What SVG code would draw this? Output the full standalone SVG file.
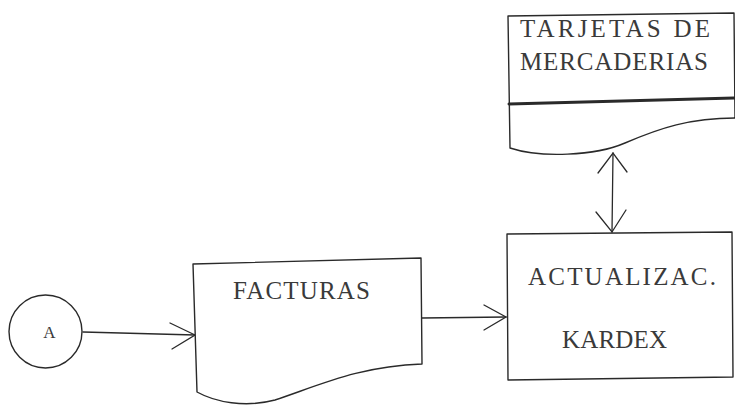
<svg xmlns="http://www.w3.org/2000/svg" width="735" height="405" viewBox="0 0 735 405">
  <defs>
    <style>
      .shape { fill: #ffffff; stroke: #2a2a2a; stroke-width: 1.4; stroke-linejoin: round; }
      .line { fill: none; stroke: #2a2a2a; stroke-width: 1.3; stroke-linecap: round; }
      .label { font-family: "Liberation Serif", "Times New Roman", serif; font-size: 25px; fill: #3a3a3a; }
    </style>
  </defs>
  <rect width="735" height="405" fill="#ffffff"/>

  <!-- connector A to FACTURAS, FACTURAS to ACTUALIZAC., KARDEX to TARJETAS -->
  <g id="connectors">
    <path class="line" d="M83 332 L195 335"/>
    <path class="line" d="M170 323 L195 335 L172 349"/>
    <path class="line" d="M422 318 L506 317"/>
    <path class="line" d="M484 305 L506 317 L484 330"/>
    <path class="line" d="M613 153 L612 232"/>
    <path class="line" d="M598 173 L613 153 L627 172"/>
    <path class="line" d="M596 212 L612 232 L626 210"/>
  </g>

  <g id="node-a">
    <circle class="shape" cx="45.5" cy="331.5" r="36.5"/>
    <text class="label" x="49.5" y="338" text-anchor="middle" style="font-size:17px">A</text>
  </g>

  <g id="node-facturas">
    <path class="shape" d="M193 264 L421 258 L422 364 C360 366 320 385 275 400 C245 408 215 402 197 392 Z"/>
    <text class="label" x="233" y="299" textLength="137" lengthAdjust="spacing">FACTURAS</text>
  </g>

  <g id="node-actualizac">
    <path class="shape" d="M507 234 L732 232 L733 377 L508 380 Z"/>
    <text class="label" x="528" y="285" textLength="188" lengthAdjust="spacing">ACTUALIZAC.</text>
    <text class="label" x="562" y="348" textLength="105" lengthAdjust="spacing">KARDEX</text>
  </g>

  <g id="node-tarjetas">
    <path class="shape" d="M508 16 L734 13 L735 118 C690 118 660 128 625 143 C595 156 540 158 510 148 Z"/>
    <path class="line" d="M509 104 L734 98" style="stroke-width:3"/>
    <text class="label" x="520" y="37" textLength="190" lengthAdjust="spacing">TARJETAS DE</text>
    <text class="label" x="520" y="70" textLength="188" lengthAdjust="spacing">MERCADERIAS</text>
  </g>
</svg>
